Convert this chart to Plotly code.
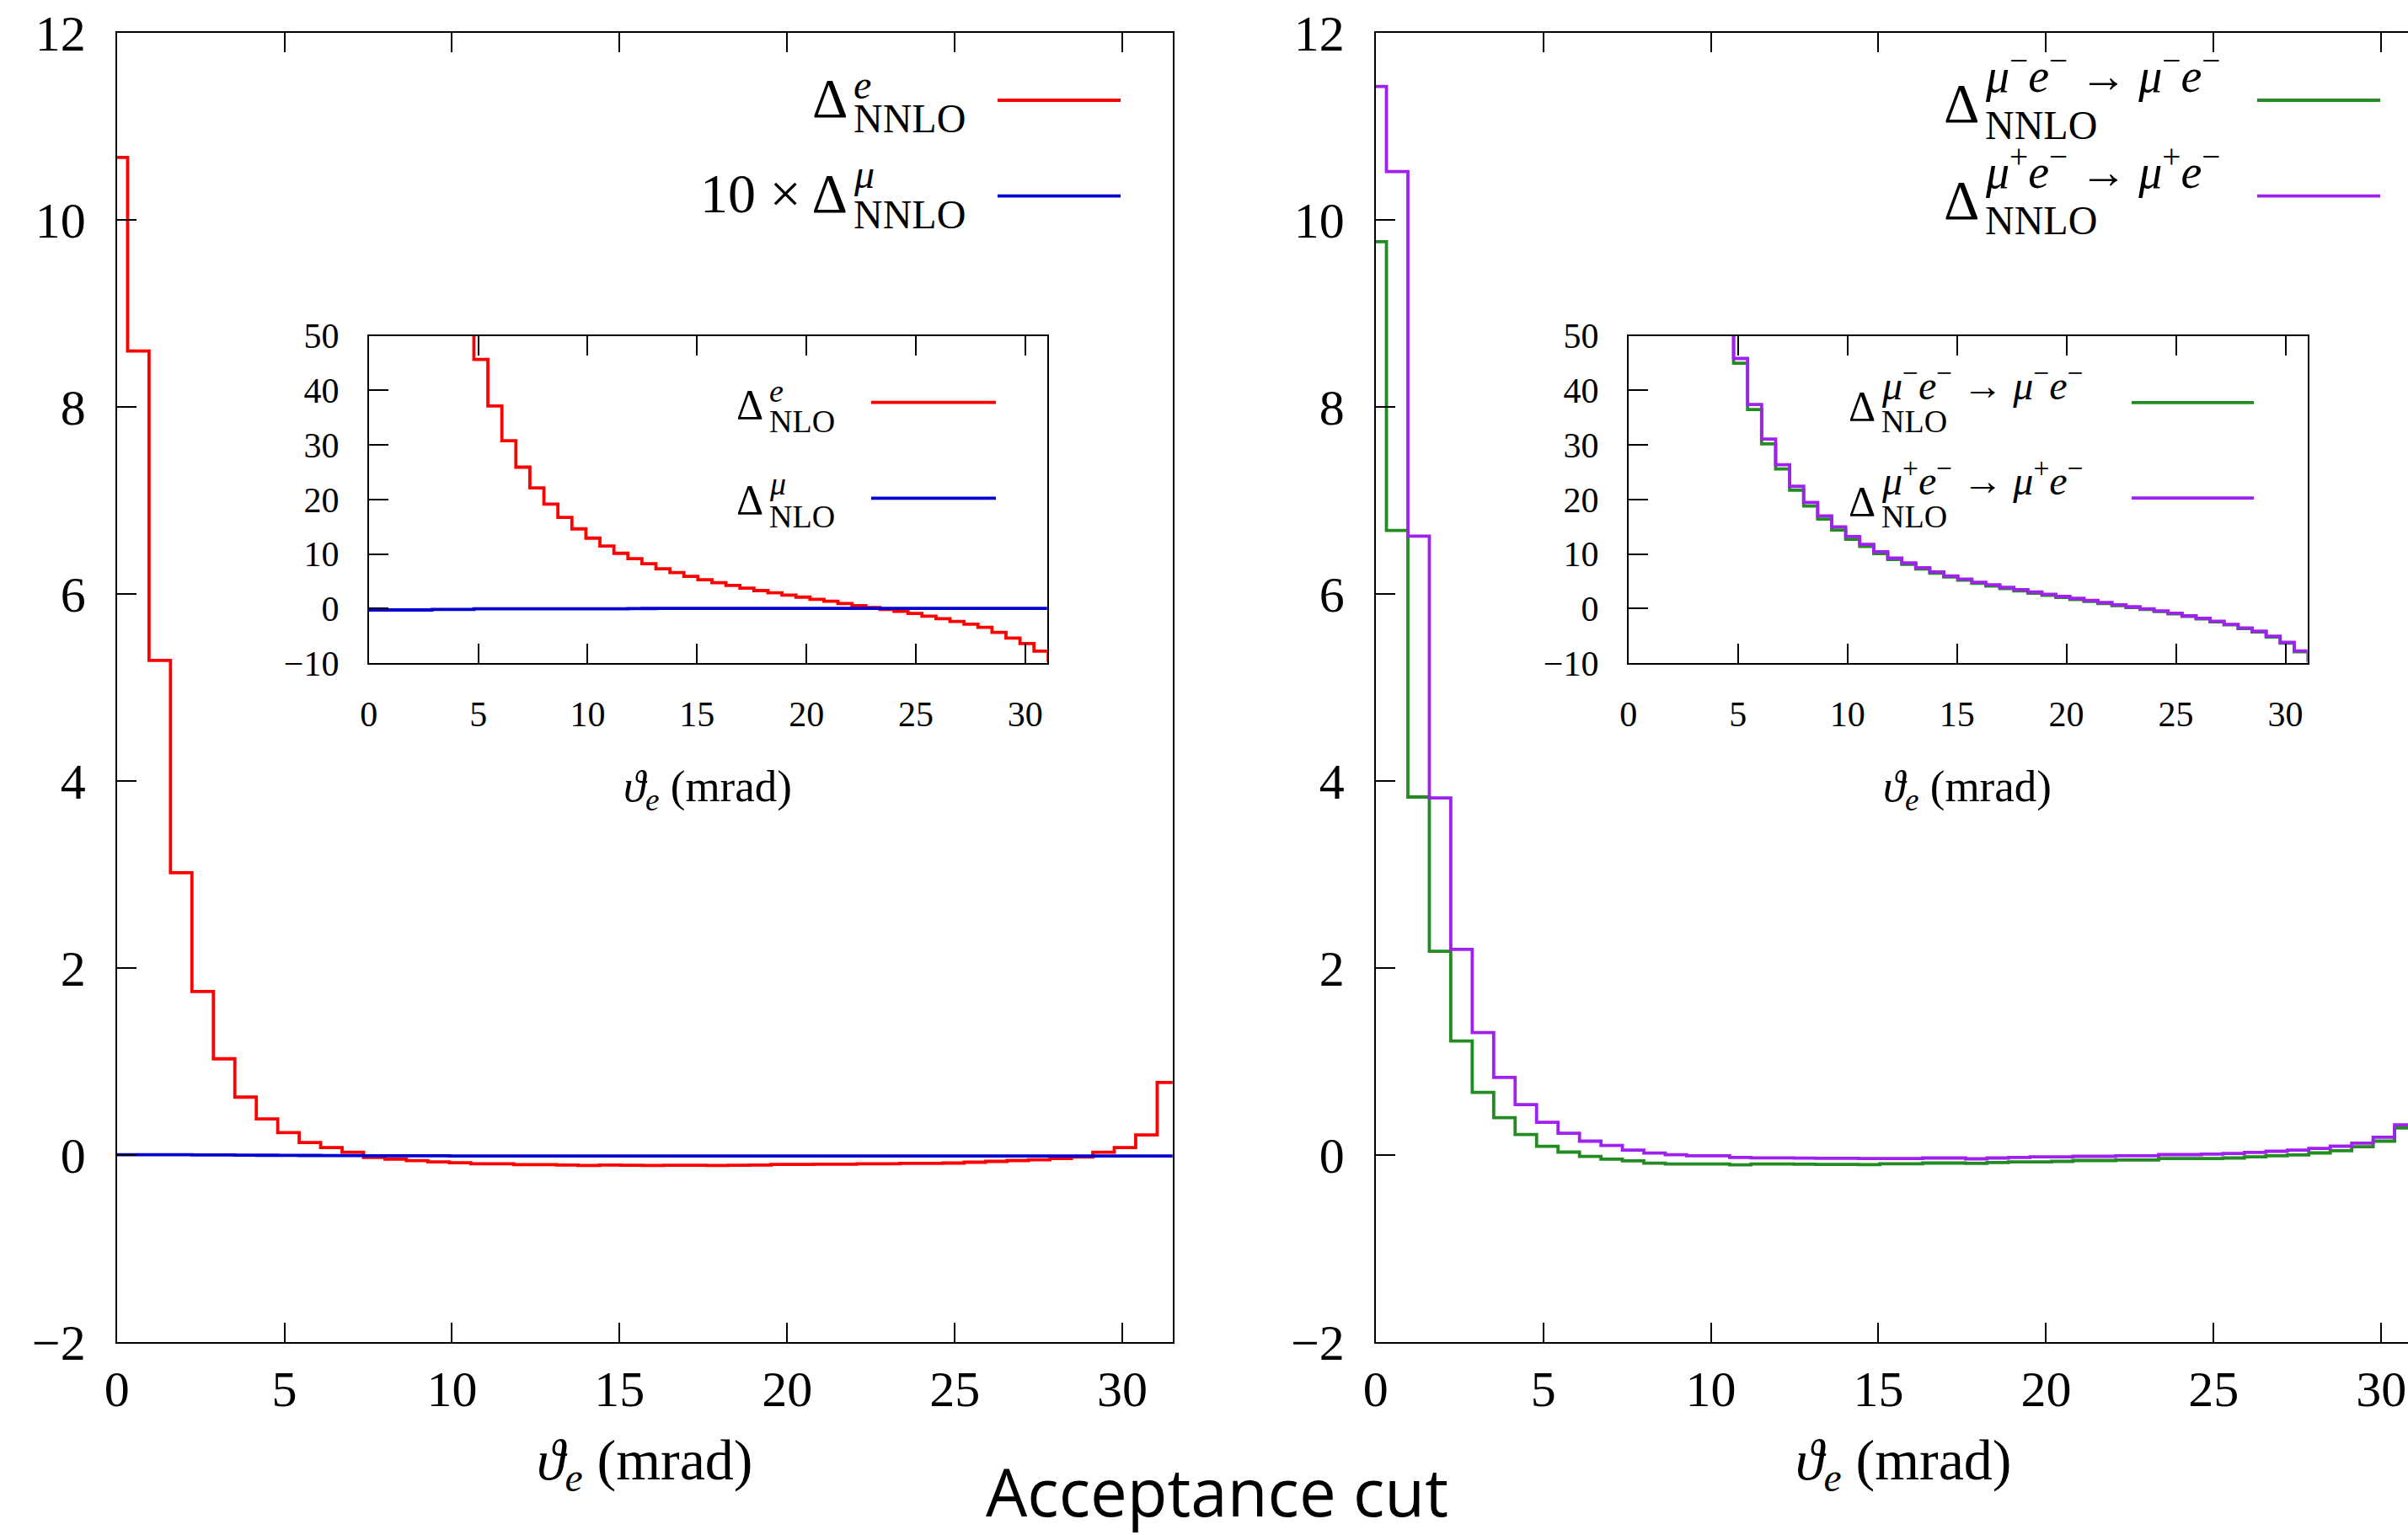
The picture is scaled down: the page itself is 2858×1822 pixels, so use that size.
import plotly.graph_objects as go

# ---------------- data ----------------
theta = [0.00, 0.64, 1.28, 1.92, 2.56, 3.20, 3.84, 4.48, 5.12, 5.76,
         6.40, 7.04, 7.68, 8.32, 8.96, 9.60, 10.24, 10.88, 11.52, 12.16,
         12.80, 13.44, 14.08, 14.72, 15.36, 16.00, 16.64, 17.28, 17.92, 18.56,
         19.20, 19.84, 20.48, 21.12, 21.76, 22.40, 23.04, 23.68, 24.32, 24.96,
         25.60, 26.24, 26.88, 27.52, 28.16, 28.80, 29.44, 30.08, 30.72, 31.36]

# left main panel
delta_e_nnlo = [10.67, 8.60, 5.29, 3.02, 1.75, 1.03, 0.62, 0.386, 0.24, 0.134,
                0.08, 0.03, -0.025, -0.043, -0.06, -0.073, -0.082, -0.094, -0.094, -0.103,
                -0.103, -0.106, -0.112, -0.106, -0.109, -0.112, -0.109, -0.109, -0.112, -0.109,
                -0.106, -0.100, -0.100, -0.097, -0.097, -0.094, -0.094, -0.088, -0.088, -0.085,
                -0.076, -0.067, -0.058, -0.050, -0.037, -0.020, 0.03, 0.08, 0.215, 0.776]
delta_mu_nnlo_x10 = [0.004, 0.004, 0.003, 0.003, 0.002, 0.001, 0.0, -0.002, -0.003, -0.004,
                     -0.005, -0.006, -0.007, -0.008, -0.008, -0.008, -0.009, -0.009, -0.009, -0.009,
                     -0.009, -0.009, -0.009, -0.009, -0.009, -0.009, -0.009, -0.009, -0.009, -0.009,
                     -0.009, -0.009, -0.009, -0.009, -0.009, -0.009, -0.009, -0.009, -0.009, -0.009,
                     -0.009, -0.009, -0.009, -0.009, -0.009, -0.009, -0.009, -0.009, -0.009, -0.009]

# left inset
delta_e_nlo = [620.0, 310.0, 190.0, 135.0, 100.0, 78.0, 63.0, 54.0, 45.7, 37.15,
               30.77, 25.93, 22.13, 19.14, 16.73, 14.62, 12.92, 11.48, 10.14, 9.16,
               8.24, 7.31, 6.59, 5.92, 5.30, 4.75, 4.25, 3.76, 3.30, 2.90,
               2.47, 2.10, 1.70, 1.34, 0.93, 0.52, 0.18, -0.15, -0.50, -0.90,
               -1.39, -1.85, -2.35, -2.85, -3.45, -4.35, -5.40, -6.40, -7.80, -9.50]
delta_mu_nlo = [-0.25, -0.25, -0.25, -0.25, -0.25, -0.15, -0.15, -0.15, -0.04, -0.04,
                -0.04, -0.04, -0.04, -0.04, -0.04, -0.04, -0.04, -0.04, -0.04, 0.0,
                0.02, 0.03, 0.04, 0.05, 0.05, 0.05, 0.05, 0.05, 0.05, 0.05,
                0.05, 0.05, 0.05, 0.05, 0.05, 0.05, 0.05, 0.05, 0.05, 0.05,
                0.05, 0.05, 0.05, 0.05, 0.05, 0.05, 0.05, 0.05, 0.05, 0.05]

# right main panel
mum_nnlo = [9.77, 6.68, 3.83, 2.18, 1.22, 0.67, 0.40, 0.22, 0.093, 0.032,
            -0.015, -0.043, -0.062, -0.086, -0.096, -0.096, -0.096, -0.105, -0.096, -0.096,
            -0.098, -0.100, -0.100, -0.103, -0.094, -0.094, -0.085, -0.085, -0.088, -0.079,
            -0.073, -0.073, -0.067, -0.058, -0.058, -0.052, -0.052, -0.037, -0.037, -0.037,
            -0.031, -0.019, -0.007, 0.002, 0.023, 0.047, 0.089, 0.149, 0.29, 0.70]
mup_nnlo = [11.43, 10.52, 6.62, 3.82, 2.20, 1.31, 0.83, 0.54, 0.35, 0.234,
            0.149, 0.102, 0.054, 0.022, 0.003, -0.007, -0.007, -0.025, -0.030, -0.030,
            -0.032, -0.034, -0.035, -0.037, -0.037, -0.037, -0.031, -0.031, -0.040, -0.031,
            -0.025, -0.019, -0.019, -0.013, -0.013, -0.007, -0.007, 0.005, 0.005, 0.011,
            0.017, 0.029, 0.041, 0.053, 0.071, 0.095, 0.128, 0.19, 0.323, 0.75]

# right inset
mum_nlo = [600.0, 300.0, 185.0, 132.0, 98.0, 76.0, 61.0, 52.5, 45.0, 36.5,
           30.2, 25.6, 21.7, 18.8, 16.4, 14.4, 12.7, 11.4, 10.1, 9.0,
           8.1, 7.25, 6.5, 5.8, 5.2, 4.62, 4.12, 3.66, 3.24, 2.84,
           2.44, 2.04, 1.68, 1.32, 0.94, 0.55, 0.20, -0.16, -0.55, -0.95,
           -1.42, -1.90, -2.42, -2.98, -3.65, -4.30, -5.20, -6.35, -7.90, -9.60]
mup_nlo = [620.0, 315.0, 192.0, 137.0, 102.0, 80.0, 64.0, 55.0, 45.86, 37.42,
           31.1, 26.37, 22.42, 19.46, 16.99, 14.98, 13.2, 11.79, 10.43, 9.25,
           8.36, 7.48, 6.71, 6.0, 5.42, 4.82, 4.35, 3.88, 3.46, 3.05,
           2.64, 2.22, 1.87, 1.51, 1.10, 0.70, 0.33, -0.03, -0.43, -0.85,
           -1.33, -1.79, -2.33, -2.90, -3.55, -4.15, -5.05, -6.20, -7.75, -9.40]

main_xticks = [0, 5, 10, 15, 20, 25, 30]
main_yticks = [-2, 0, 2, 4, 6, 8, 10, 12]
inset_yticks = [-10, 0, 10, 20, 30, 40, 50]

# ---------------- styling ----------------
W, H = 2858, 1822
SERIF = "Liberation Serif"
RED, BLUE, GREEN, PURPLE = "#ff0000", "#0000d0", "#228b22", "#a020f0"
LW = 3.8


def px(x):
    return x / W


def py(y):
    return 1 - y / H


half = (theta[1] - theta[0]) / 2
edges = [theta[0] - half] + [t + half for t in theta]


def steps(v):
    return list(v) + [v[-1]]


fig = go.Figure()


def add_hist(vals, color, xa, ya):
    fig.add_trace(go.Scatter(x=edges, y=steps(vals), mode="lines",
                             line=dict(color=color, width=LW, shape="hv"),
                             xaxis=xa, yaxis=ya, showlegend=False, hoverinfo="skip"))


add_hist(delta_e_nnlo, RED, "x", "y")
add_hist(delta_mu_nnlo_x10, BLUE, "x", "y")
add_hist(delta_e_nlo, RED, "x2", "y2")
add_hist(delta_mu_nlo, BLUE, "x2", "y2")
add_hist(mum_nnlo, GREEN, "x3", "y3")
add_hist(mup_nnlo, PURPLE, "x3", "y3")
add_hist(mum_nlo, GREEN, "x4", "y4")
add_hist(mup_nlo, PURPLE, "x4", "y4")


def axis(domain, rng, tickvals, size, standoff, anchor, mirror):
    return dict(domain=domain, range=rng, tickvals=tickvals, ticks="inside", ticklen=23,
                tickwidth=1.5, tickcolor="black", showline=True, linecolor="black",
                linewidth=2, mirror=mirror, showgrid=False, zeroline=False,
                automargin=False,
                tickfont=dict(family=SERIF, size=size, color="black"),
                ticklabelstandoff=standoff, anchor=anchor, fixedrange=True)


MAIN_Y = [py(1593), py(39.3)]
INSET_Y = [py(787.1), py(398.7)]
MT, IT = 60, 42

fig.update_layout(
    template="none",
    width=W, height=H, margin=dict(l=0, r=0, t=0, b=0, pad=0, autoexpand=False),
    paper_bgcolor="white", plot_bgcolor="white", showlegend=False,
    xaxis=axis([px(138.7), px(1391.7)], [0, 31.5], main_xticks, MT, 2, "y", "ticks"),
    yaxis=axis(MAIN_Y, [-2, 12], main_yticks, MT, 23, "x", True),
    xaxis2=axis([px(437.8), px(1242.8)], [0, 31], main_xticks, IT, 22, "y2", "ticks"),
    yaxis2=axis(INSET_Y, [-10, 50], inset_yticks, IT, 25, "x2", True),
    xaxis3=axis([px(1632.8), 1.0], [0, 30.80], main_xticks, MT, 2, "y3", "ticks"),
    yaxis3=axis(MAIN_Y, [-2, 12], main_yticks, MT, 23, "x3", False),
    xaxis4=axis([px(1932.8), px(2738.5)], [0, 31], main_xticks, IT, 22, "y4", "ticks"),
    yaxis4=axis(INSET_Y, [-10, 50], inset_yticks, IT, 25, "x4", True),
)

ann = []
shapes = []


def text(x, y, s, size, anchor="left", family=SERIF):
    ann.append(dict(x=px(x), y=py(y), xref="paper", yref="paper", text=s, showarrow=False,
                    xanchor=anchor, yanchor="middle",
                    font=dict(family=family, size=size, color="black")))


def legend_entry(xr, yc, prefix, sup, sub, dsize, supsize, subsize, dsup, dsub,
                 line_x, line_y, color):
    text(xr, yc, prefix + "Δ", dsize, "right")
    text(xr + 3, yc + dsup, sup, supsize, "left")
    text(xr + 3, yc + dsub, sub, subsize, "left")
    shapes.append(dict(type="line", xref="paper", yref="paper",
                       x0=px(line_x[0]), x1=px(line_x[1]), y0=py(line_y), y1=py(line_y),
                       line=dict(color=color, width=LW)))


MU_M = "<i>μ</i><sup>−</sup><i>e</i><sup>−</sup> → <i>μ</i><sup>−</sup><i>e</i><sup>−</sup>"
MU_P = "<i>μ</i><sup>+</sup><i>e</i><sup>−</sup> → <i>μ</i><sup>+</sup><i>e</i><sup>−</sup>"

# left main legend
legend_entry(1008, 116, "", "<i>e</i>", "NNLO", 66, 48, 48, -15, 24, (1184, 1330), 119, RED)
legend_entry(1008, 230, "10 × ", "<i>μ</i>", "NNLO", 66, 48, 48, -23, 24, (1184, 1330), 232.6, BLUE)
# left inset legend
legend_entry(908, 480, "", "<i>e</i>", "NLO", 50, 38, 38, -16, 20, (1034, 1182), 477.7, RED)
legend_entry(908, 593, "", "<i>μ</i>", "NLO", 50, 38, 38, -19, 20, (1034, 1182), 591.3, BLUE)
# right main legend
legend_entry(2351, 123, "", MU_M, "NNLO", 66, 56, 48, -38, 25, (2679, 2825), 119, GREEN)
legend_entry(2351, 237, "", MU_P, "NNLO", 66, 56, 48, -38, 25, (2679, 2825), 232.6, PURPLE)
# right inset legend
legend_entry(2228, 482, "", MU_M, "NLO", 50, 48, 38, -28, 18, (2530, 2675), 477.9, GREEN)
legend_entry(2228, 595, "", MU_P, "NLO", 50, 48, 38, -28, 18, (2530, 2675), 591.2, PURPLE)

# axis titles
XT = "<i>ϑ</i><sub><i>e</i></sub> (mrad)"
text(765, 1737, XT, 68, "center")
text(2259, 1737, XT, 68, "center")
text(840, 937, XT, 53, "center")
text(2335, 937, XT, 53, "center")

# figure caption
text(1444, 1770, "Acceptance cut", 78, "center", family="Open Sans")

fig.update_layout(annotations=ann, shapes=shapes)
fig.write_html("out.html")
